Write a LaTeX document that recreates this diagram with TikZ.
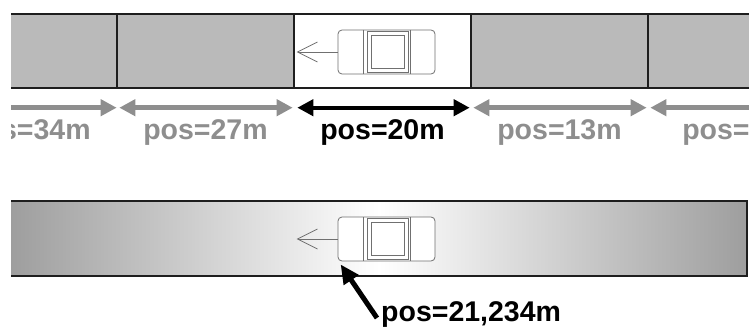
\documentclass[tikz,border=0pt]{standalone}
\usepackage{fontspec}
\setmainfont{Liberation Sans}
\usepackage{tikz}
\usetikzlibrary{arrows.meta}
\definecolor{roadgray}{HTML}{BABABA}
\definecolor{markgray}{HTML}{8E8E8E}
\definecolor{cargray}{HTML}{707070}
\definecolor{edgedark}{HTML}{1E1E1E}
\definecolor{shadegray}{HTML}{9E9E9E}

\tikzset{
  carbody/.style={
    draw=cargray, fill=white, line width=0.8pt,
    minimum width=97pt, minimum height=44pt,
    rounded corners=4pt, inner sep=0pt
  },
  carline/.style={draw=cargray, line width=0.7pt},
  heading/.style={-{Straight Barb[length=20pt, width=20pt, line width=0.8pt]}, cargray, line width=0.8pt},
  % car seen from above, driving to the left
  car/.pic={
    \node[carbody] (-body) at (0,0) {};
    \draw[carline] (-23.5,-22) -- (-23.5,22) (23.5,-22) -- (23.5,22);
    \draw[carline] (-19.5,-20.5) rectangle (21.5,20.5);
    \draw[carline] (-15.5,-17) rectangle (17.5,16.5);
    \draw[heading] (-body.west) -- ++(-41,0);
  }
}

\begin{document}
\begin{tikzpicture}[
  x=1pt, y=-1pt,
  seg/.style={
    draw=edgedark, fill=roadgray, line width=1.4pt,
    minimum width=177pt, minimum height=74pt, inner sep=0pt
  },
  segarrow/.style={{Triangle[length=16pt, width=16pt]}-{Triangle[length=16pt, width=16pt]}, line width=5pt, markgray},
  curarrow/.style={segarrow, black, line width=4pt},
  poslabel/.style={font=\fontsize{28.5}{30}\selectfont\bfseries, color=markgray, inner sep=0pt, anchor=base},
  pointer/.style={-{Triangle[length=19pt, width=17pt]}, line width=5pt, black}
]
\useasboundingbox (0,0) rectangle (749,329);
\clip (11,0) rectangle (749,329);

% ---- Strasse in Abschnitten ----
\node[seg] (s34) at (28.5,51) {};
\node[seg] (s27) at (205.5,51) {};
\node[seg, fill=white] (s20) at (382.5,51) {};
\node[seg] (s13) at (559.5,51) {};
\node[seg] (s6) at (736.5,51) {};

\pic (car1) at (386.5,52) {car};

% Abschnittslaengen
\draw[segarrow] ([xshift=3pt,yshift=-19pt]s34.south west) -- ([xshift=-1pt,yshift=-19pt]s34.south east);
\draw[segarrow] ([xshift=3pt,yshift=-19pt]s27.south west) -- ([xshift=-2pt,yshift=-19pt]s27.south east);
\draw[curarrow] ([xshift=4pt,yshift=-19pt]s20.south west) -- ([xshift=-2pt,yshift=-19pt]s20.south east);
\draw[segarrow] ([xshift=3pt,yshift=-19pt]s13.south west) -- ([xshift=-2pt,yshift=-19pt]s13.south east);
\draw[segarrow] ([xshift=3pt,yshift=-19pt]s6.south west) -- ([xshift=-2pt,yshift=-19pt]s6.south east);

\node[poslabel] (l34) at ([yshift=-51pt]s34.south) {pos=34m};
\node[poslabel] (l27) at ([yshift=-51pt]s27.south) {pos=27m};
\node[poslabel, color=black] (l20) at ([yshift=-51pt]s20.south) {pos=20m};
\node[poslabel] (l13) at ([yshift=-51pt]s13.south) {pos=13m};
\node[poslabel] (l6) at ([yshift=-51pt]s6.south) {pos=6m};

% ---- kontinuierliche Strasse ----
\node[left color=shadegray, right color=shadegray, middle color=white,
      minimum width=736pt, minimum height=75pt, inner sep=0pt] (road) at (379,238.5) {};
\draw[edgedark, line width=1.6pt] (road.north west) -- (road.north east)
  -- (road.south east) -- (road.south west);

\pic (car2) at (386.5,239) {car};

\node[poslabel, color=black, anchor=base west] (lpos) at (381,321) {pos=21,234m};
\draw[pointer] ([shift={(-4pt,3pt)}]lpos.base west) -- ([shift={(3pt,-3pt)}]car2-body.south west);

\end{tikzpicture}
\end{document}
